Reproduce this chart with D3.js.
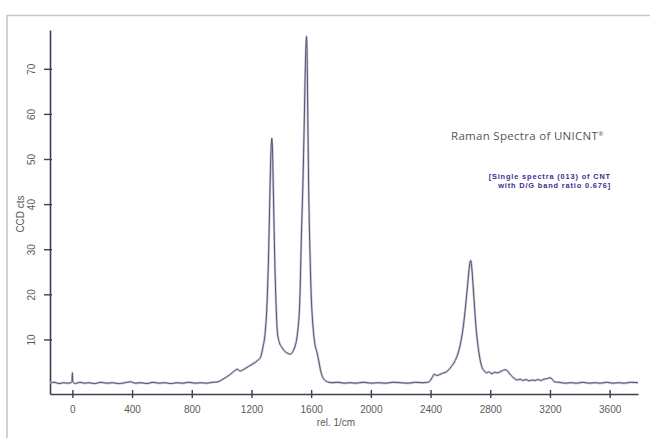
<!DOCTYPE html>
<html>
<head>
<meta charset="utf-8">
<script src="https://cdn.jsdelivr.net/npm/d3@7"></script>
<style>
	body { margin: 0; background: #fff; }
	svg { display: block; }
</style>
</head>
<body>
<div id="chart"></div>
<script>
// tick values
let xTickValues = [0, 400, 800, 1200, 1600, 2000, 2400, 2800, 3200, 3600];
let yTickValues = [10, 20, 30, 40, 50, 60, 70];

// spectrum, [rel. 1/cm, CCD cts]
let spectrum = [
	[-150, 0.3], [-120, 0.5], [-90, 0.2], [-60, 0.4], [-30, 0.3], [-10, 0.4], [-3, 0.6], [0, 2.6], [3, 0.6],
	[20, 0.2], [50, 0.5], [80, 0.3], [110, 0.4], [150, 0.2], [190, 0.5], [230, 0.3], [270, 0.4],
	[310, 0.2], [350, 0.4], [390, 0.6], [420, 0.3], [460, 0.4], [500, 0.2], [540, 0.5], [580, 0.3],
	[620, 0.4], [660, 0.2], [700, 0.4], [740, 0.3], [780, 0.5], [820, 0.3], [860, 0.4], [900, 0.3],
	[940, 0.5], [975, 0.6], [1000, 1.0], [1030, 1.6], [1060, 2.3], [1085, 3.0], [1105, 3.4],
	[1125, 3.0], [1150, 3.4], [1180, 4.0], [1210, 4.6], [1240, 5.3], [1260, 6.0], [1278, 8.5],
	[1292, 11.5], [1305, 18.5], [1314, 28], [1322, 40], [1329, 50], [1336, 54.6], [1341, 52],
	[1346, 44], [1352, 34], [1358, 25], [1364, 18.5], [1374, 11.5], [1388, 9.2], [1405, 8.2],
	[1425, 7.3], [1445, 6.9], [1460, 6.7], [1475, 7.2], [1490, 8.3], [1508, 11.3], [1524, 18.7],
	[1535, 33.5], [1545, 45], [1553, 57], [1560, 69], [1565, 75], [1569, 77.2], [1574, 70],
	[1579, 55], [1584, 42], [1590, 32], [1600, 20], [1612, 13], [1625, 9], [1640, 7], [1652, 5],
	[1662, 3.3], [1675, 1.8], [1690, 1.0], [1710, 0.6], [1740, 0.4], [1780, 0.5], [1820, 0.3],
	[1860, 0.4], [1900, 0.3], [1950, 0.5], [2000, 0.3], [2050, 0.4], [2100, 0.3], [2150, 0.5],
	[2200, 0.4], [2250, 0.3], [2300, 0.5], [2350, 0.4], [2390, 0.6], [2410, 1.5], [2425, 2.3],
	[2440, 2.0], [2460, 2.2], [2480, 2.5], [2500, 2.7], [2520, 3.2], [2540, 4.0], [2560, 5.0],
	[2580, 6.5], [2600, 9], [2620, 13], [2635, 17.5], [2648, 22], [2658, 25.5], [2665, 27.2],
	[2670, 27.5], [2676, 26], [2685, 22], [2695, 17], [2705, 12.5], [2718, 8.5], [2732, 5.5],
	[2745, 3.8], [2760, 3.0], [2775, 2.6], [2790, 2.8], [2810, 2.4], [2830, 2.7], [2850, 2.6],
	[2870, 2.9], [2890, 3.2], [2905, 3.3], [2920, 2.8], [2940, 2.0], [2960, 1.4], [2980, 1.0],
	[3000, 1.2], [3020, 0.9], [3040, 1.1], [3060, 0.8], [3080, 1.0], [3100, 0.9], [3120, 1.1],
	[3140, 0.9], [3160, 1.2], [3180, 1.3], [3200, 1.5], [3215, 1.2], [3230, 0.6], [3260, 0.5],
	[3300, 0.3], [3340, 0.4], [3380, 0.3], [3420, 0.5], [3460, 0.3], [3500, 0.4], [3540, 0.3],
	[3580, 0.5], [3620, 0.3], [3660, 0.4], [3700, 0.3], [3740, 0.5], [3790, 0.4]
];

let width = 650;
let height = 438;

let svg = d3.select('#chart')
	.append('svg')
	.attr('width', width)
	.attr('height', height);

// outer frame (only top and left edges show in the picture)
svg.append('path')
	.attr('d', 'M7,438 L7,15.5 L650,15.5')
	.attr('fill', 'none')
	.attr('stroke', '#c3c7cf')
	.attr('stroke-width', 1.6);

let xScale = d3.scaleLinear()
	.domain([-150, 3790])
	.range([50, 638]);

let yScale = d3.scaleLinear()
	.domain([-2.1, 78.6])
	.range([394, 30]);

let axisColor = '#413c52';
let labelColor = '#5a5a5a';

// x axis
let gx = svg.append('g')
	.attr('transform', `translate(0,${yScale.range()[0]})`)
	.call(d3.axisBottom(xScale).tickValues(xTickValues).tickFormat(d3.format('d')).tickSizeOuter(0).tickPadding(6));

gx.select('.domain').attr('stroke', axisColor).attr('stroke-width', 1.6);
gx.selectAll('.tick line').attr('y1', -4).attr('y2', 4).attr('stroke', axisColor).attr('stroke-width', 1.4);
gx.selectAll('.tick text')
	.attr('fill', labelColor)
	.style('font-family', '"Liberation Sans", Arial, sans-serif')
	.style('font-size', '10px');

// y axis
let gy = svg.append('g')
	.attr('transform', `translate(${xScale.range()[0]},0)`)
	.call(d3.axisLeft(yScale).tickValues(yTickValues).tickSizeOuter(0));

gy.select('.domain').attr('stroke', axisColor).attr('stroke-width', 1.6);
gy.selectAll('.tick line').attr('x1', -6).attr('x2', 2).attr('stroke', axisColor).attr('stroke-width', 1.4);
gy.selectAll('.tick text')
	.attr('x', null)
	.attr('dy', '0.35em')
	.attr('transform', 'translate(-18.5,0) rotate(-90)')
	.style('text-anchor', 'middle')
	.attr('fill', labelColor)
	.style('font-family', '"Liberation Sans", Arial, sans-serif')
	.style('font-size', '10px');

// axis titles
svg.append('text')
	.attr('x', 336)
	.attr('y', 426)
	.style('text-anchor', 'middle')
	.style('font-family', '"Liberation Sans", Arial, sans-serif')
	.style('font-size', '10px')
	.attr('fill', labelColor)
	.text('rel. 1/cm');

svg.append('text')
	.attr('transform', 'translate(24,214) rotate(-90)')
	.style('text-anchor', 'middle')
	.style('font-family', '"Liberation Sans", Arial, sans-serif')
	.style('font-size', '10px')
	.attr('fill', labelColor)
	.text('CCD cts');

// spectrum line
let line = d3.line()
	.x(d => xScale(d[0]))
	.y(d => yScale(d[1]))
	.curve(d3.curveMonotoneX);

svg.append('path')
	.datum(spectrum)
	.attr('d', line)
	.attr('fill', 'none')
	.attr('stroke', '#cdc8da')
	.attr('stroke-width', 2.4)
	.attr('stroke-linejoin', 'round');

svg.append('path')
	.datum(spectrum)
	.attr('d', line)
	.attr('fill', 'none')
	.attr('stroke', '#57516c')
	.attr('stroke-width', 1)
	.attr('stroke-linejoin', 'round');

// annotations
let title = svg.append('text')
	.attr('x', 451)
	.attr('y', 140)
	.style('font-family', '"Open Sans", "Liberation Sans", sans-serif')
	.style('font-size', '11.5px')
	.style('letter-spacing', '0.3px')
	.attr('fill', '#555');
title.append('tspan').text('Raman Spectra of UNICNT');
title.append('tspan').attr('dy', -4).style('font-size', '6px').text('®');

let note = ['[Single spectra (013) of CNT', 'with D/G band ratio 0.676]'];
svg.selectAll('.note')
	.data(note)
	.enter()
	.append('text')
	.attr('class', 'note')
	.attr('x', 611)
	.attr('y', (d, i) => 179 + i * 8.5)
	.style('text-anchor', 'end')
	.style('font-family', '"Liberation Sans", Arial, sans-serif')
	.style('font-size', '7.4px')
	.style('font-weight', 'bold')
	.style('letter-spacing', '0.85px')
	.attr('fill', '#3b2e8c')
	.text(d => d);
</script>
</body>
</html>
